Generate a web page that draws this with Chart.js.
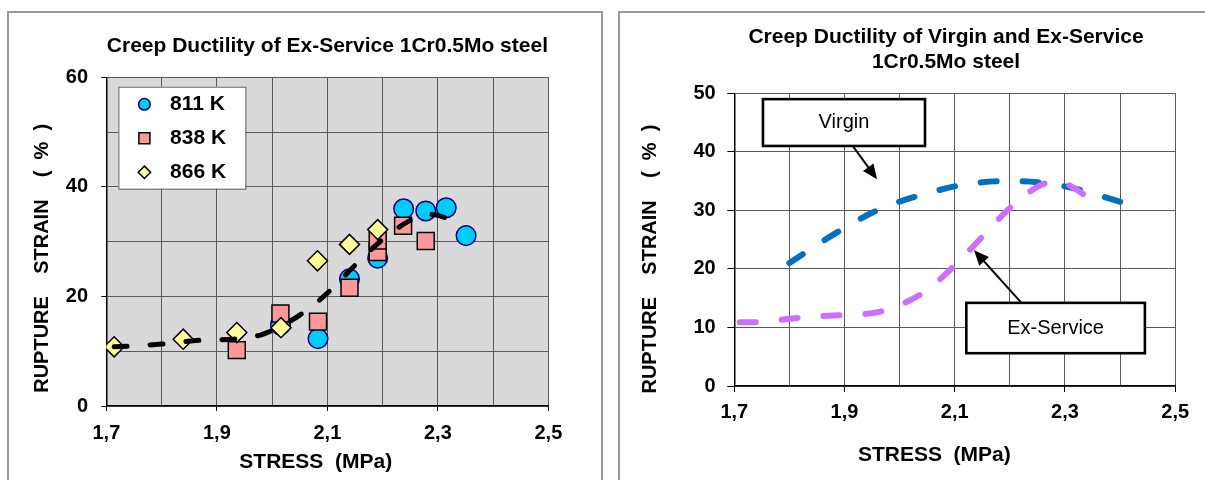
<!DOCTYPE html>
<html>
<head>
<meta charset="utf-8">
<title>Creep Ductility of 1Cr0.5Mo steel</title>
<script src="https://cdn.jsdelivr.net/npm/chart.js@4.4.0/dist/chart.umd.min.js"></script>
<style>
  body { margin: 0; width: 1205px; height: 480px; overflow: hidden; position: relative; background: #fff; }
  .panel { position: absolute; border: 2px solid #9a9a9a; background: #fff; }
  #panelLeft { left: 7px; top: 11px; width: 592px; height: 480px; }
  #panelRight { left: 618px; top: 11px; width: 600px; height: 480px; }
  .holder { position: absolute; top: 0; height: 480px; }
  #leftHolder { left: 0; width: 605px; }
  #rightHolder { left: 605px; width: 600px; }
</style>
</head>
<body>
<div class="panel" id="panelLeft"></div>
<div class="panel" id="panelRight"></div>
<div class="holder" id="leftHolder"><canvas id="leftChart"></canvas></div>
<div class="holder" id="rightHolder"><canvas id="rightChart"></canvas></div>
<script>
// Left chart - measured rupture strain of ex-service steel at three temperatures
const stress811 = [2.015, 2.083, 2.14, 2.191, 2.238, 2.278, 2.315, 2.351];
const strain811 = [14.8, 12.3, 23.2, 27.0, 36.0, 35.6, 36.2, 31.1];
const stress838 = [1.936, 2.015, 2.083, 2.14, 2.191, 2.191, 2.237, 2.278];
const strain838 = [10.2, 16.9, 15.4, 21.6, 28.1, 30.2, 32.9, 30.1];
const stress866 = [1.714, 1.839, 1.936, 2.016, 2.082, 2.14, 2.191];
const strain866 = [10.8, 12.2, 13.4, 14.3, 26.5, 29.5, 32.2];

// dashed trend line drawn through the points
const trendStress = [1.714, 1.8, 1.87, 1.93, 1.98, 2.01, 2.05, 2.1, 2.15, 2.2, 2.25, 2.28, 2.31, 2.34];
const trendStrain = [10.8, 11.3, 12.0, 12.2, 13.0, 14.3, 16.6, 20.6, 25.7, 30.4, 33.9, 35.0, 34.5, 32.6];

// Right chart - fitted curves for virgin and ex-service material
const virginStress = [1.8, 1.85, 1.9, 1.95, 2.0, 2.05, 2.1, 2.15, 2.2, 2.25, 2.3, 2.35, 2.415];
const virginStrain = [21.0, 24.1, 27.0, 29.6, 31.5, 32.9, 34.1, 34.8, 35.0, 34.8, 34.1, 32.9, 31.0];
const exStress = [1.71, 1.75, 1.8, 1.87, 1.92, 1.96, 2.0, 2.05, 2.1, 2.15, 2.2, 2.25, 2.28, 2.3, 2.32, 2.35];
const exStrain = [10.9, 10.9, 11.5, 12.0, 12.2, 12.6, 13.8, 16.4, 20.6, 25.5, 30.4, 34.0, 34.9, 34.6, 33.6, 31.6];

// Axis ticks
const stressGrid = [1.7, 1.8, 1.9, 2.0, 2.1, 2.2, 2.3, 2.4, 2.5];
const stressLabelled = [1.7, 1.9, 2.1, 2.3, 2.5];
const strainGridLeft = [0, 10, 20, 30, 40, 50, 60];
const strainLabelledLeft = [0, 20, 40, 60];
const strainGridRight = [0, 10, 20, 30, 40, 50];

const family = '"Liberation Sans", Arial, Helvetica, sans-serif';

function toPoints(xs, ys) {
  return xs.map((x, i) => ({ x: x, y: ys[i] }));
}

function isLabelled(value, list) {
  return list.some(t => Math.abs(t - value) < 1e-6);
}

function commaLabel(value) {
  return value.toFixed(1).replace('.', ',');
}

function drawMarker(ctx, style, x, y, size, fill, stroke, width) {
  ctx.beginPath();
  if (style === 'circle') {
    ctx.arc(x, y, size, 0, Math.PI * 2);
  } else if (style === 'rect') {
    ctx.rect(x - size, y - size, size * 2, size * 2);
  } else {
    ctx.moveTo(x, y - size);
    ctx.lineTo(x + size, y);
    ctx.lineTo(x, y + size);
    ctx.lineTo(x - size, y);
    ctx.closePath();
  }
  ctx.fillStyle = fill;
  ctx.fill();
  ctx.lineWidth = width;
  ctx.strokeStyle = stroke;
  ctx.stroke();
}

// Fill the plot area
const plotBackground = {
  id: 'plotBackground',
  beforeDraw(chart, args, opts) {
    if (!opts.color) return;
    const { ctx, chartArea: a } = chart;
    ctx.save();
    ctx.fillStyle = opts.color;
    ctx.fillRect(a.left, a.top, a.right - a.left, a.bottom - a.top);
    ctx.restore();
  }
};

// Legend in a white box inside the plot area
const boxLegend = {
  id: 'boxLegend',
  afterDatasetsDraw(chart, args, opts) {
    if (!opts.display) return;
    const { ctx, chartArea: a } = chart;
    const left = a.left + opts.left;
    const top = a.top + opts.top;
    ctx.save();
    ctx.fillStyle = '#fff';
    ctx.fillRect(left, top, opts.width, opts.height);
    ctx.strokeStyle = '#606060';
    ctx.lineWidth = 1;
    ctx.strokeRect(left + 0.5, top + 0.5, opts.width, opts.height);
    const items = chart.data.datasets.filter(d => d.showLine === false);
    items.forEach((d, i) => {
      const cy = top + opts.firstRow + i * opts.rowGap;
      const size = opts.markerSize[d.pointStyle] || 5.5;
      drawMarker(ctx, d.pointStyle, left + opts.markerX, cy, size, d.pointBackgroundColor, d.pointBorderColor, 1.5);
      ctx.fillStyle = '#000';
      ctx.font = 'bold 21px ' + family;
      ctx.textAlign = 'left';
      ctx.textBaseline = 'middle';
      ctx.fillText(d.label, left + opts.textX, cy);
    });
    ctx.restore();
  }
};

// Text boxes with arrows pointing at the curves
const calloutBoxes = {
  id: 'calloutBoxes',
  afterDatasetsDraw(chart, args, opts) {
    if (!opts.items) return;
    const { ctx, scales: { x, y } } = chart;
    ctx.save();
    opts.items.forEach(c => {
      const x0 = x.getPixelForValue(c.from[0]);
      const y0 = y.getPixelForValue(c.from[1]);
      const x1 = x.getPixelForValue(c.to[0]);
      const y1 = y.getPixelForValue(c.to[1]);
      const ang = Math.atan2(y1 - y0, x1 - x0);
      const head = 15;
      const half = 6.5;
      ctx.strokeStyle = '#000';
      ctx.lineWidth = 2;
      ctx.beginPath();
      ctx.moveTo(x0, y0);
      ctx.lineTo(x1 - Math.cos(ang) * head * 0.8, y1 - Math.sin(ang) * head * 0.8);
      ctx.stroke();
      ctx.beginPath();
      ctx.moveTo(x1, y1);
      ctx.lineTo(x1 - Math.cos(ang) * head - Math.sin(ang) * half, y1 - Math.sin(ang) * head + Math.cos(ang) * half);
      ctx.lineTo(x1 - Math.cos(ang) * head + Math.sin(ang) * half, y1 - Math.sin(ang) * head - Math.cos(ang) * half);
      ctx.closePath();
      ctx.fillStyle = '#000';
      ctx.fill();

      const l = x.getPixelForValue(c.xMin);
      const r = x.getPixelForValue(c.xMax);
      const t = y.getPixelForValue(c.yMax);
      const b = y.getPixelForValue(c.yMin);
      ctx.fillStyle = '#fff';
      ctx.fillRect(l, t, r - l, b - t);
      ctx.lineWidth = 2.6;
      ctx.strokeRect(l, t, r - l, b - t);
      ctx.fillStyle = '#000';
      ctx.font = '20px ' + family;
      ctx.textAlign = 'center';
      ctx.textBaseline = 'middle';
      ctx.fillText(c.text, (l + r) / 2, (t + b) / 2);
    });
    ctx.restore();
  }
};

const tickFont = { family: family, size: 20, weight: 'bold', lineHeight: 1.2 };
const xTitleFont = { family: family, size: 21, weight: 'bold', lineHeight: 1.2 };
const yTitleFont = { family: family, size: 20, weight: 'bold', lineHeight: 1.2 };

function stressAxis(height, tickLen, pad, title, titlePad) {
  return {
    type: 'linear',
    min: 1.7,
    max: 2.5,
    afterFit: (s) => { s.height = height; },
    afterBuildTicks: (s) => { s.ticks = stressGrid.map(v => ({ value: v })); },
    ticks: {
      autoSkip: false,
      maxRotation: 0,
      padding: pad,
      color: '#000',
      font: tickFont,
      callback: (v) => isLabelled(v, stressLabelled) ? commaLabel(v) : ''
    },
    grid: {
      color: '#5a5a5a',
      lineWidth: 1,
      tickLength: tickLen,
      tickColor: (c) => (c.tick && isLabelled(c.tick.value, stressLabelled)) ? '#000' : 'rgba(0,0,0,0)'
    },
    border: { color: '#000', width: 1.5 },
    title: { display: true, text: title, color: '#000', font: xTitleFont, padding: { top: 0, bottom: titlePad } }
  };
}

function strainAxis(width, max, grid, labelled, tickLen, pad, title, titlePad) {
  return {
    min: 0,
    max: max,
    afterFit: (s) => { s.width = width; },
    afterBuildTicks: (s) => { s.ticks = grid.map(v => ({ value: v })); },
    ticks: {
      autoSkip: false,
      padding: pad,
      color: '#000',
      font: tickFont,
      callback: (v) => isLabelled(v, labelled) ? String(v) : ''
    },
    grid: {
      color: '#5a5a5a',
      lineWidth: 1,
      tickLength: tickLen,
      tickColor: (c) => (c.tick && isLabelled(c.tick.value, labelled)) ? '#000' : 'rgba(0,0,0,0)'
    },
    border: { color: '#000', width: 1.5 },
    title: { display: true, text: title, color: '#000', font: yTitleFont, padding: { top: titlePad, bottom: 0 } }
  };
}

// Left chart
const leftCtx = document.getElementById('leftChart').getContext('2d');
const leftChart = new Chart(leftCtx, {
  type: 'line',
  data: {
    datasets: [
      {
        label: '811 K',
        data: toPoints(stress811, strain811),
        showLine: false,
        pointStyle: 'circle',
        pointRadius: 9.8,
        pointBackgroundColor: '#00CCFF',
        pointBorderColor: '#000080',
        pointBorderWidth: 1.5,
        order: 3
      },
      {
        label: '838 K',
        data: toPoints(stress838, strain838),
        showLine: false,
        pointStyle: 'rect',
        pointRadius: 12,
        pointBackgroundColor: '#FF9999',
        pointBorderColor: '#000',
        pointBorderWidth: 1.5,
        order: 2
      },
      {
        label: '866 K',
        data: toPoints(stress866, strain866),
        showLine: false,
        pointStyle: 'rectRot',
        pointRadius: 10,
        pointBackgroundColor: '#FFFF99',
        pointBorderColor: '#000',
        pointBorderWidth: 1.5,
        order: 1
      },
      {
        label: 'trend',
        data: toPoints(trendStress, trendStrain),
        borderColor: '#000',
        borderWidth: 5,
        borderDash: [13, 23],
        borderCapStyle: 'round',
        cubicInterpolationMode: 'monotone',
        pointRadius: 0,
        fill: false,
        order: 0
      }
    ]
  },
  options: {
    responsive: true,
    maintainAspectRatio: false,
    animation: false,
    events: [],
    layout: { padding: { left: 20.4, top: 10, right: 56.6, bottom: 0 } },
    plugins: {
      legend: { display: false },
      tooltip: { enabled: false },
      title: {
        display: true,
        fullSize: false,
        text: 'Creep Ductility of Ex-Service 1Cr0.5Mo steel',
        color: '#000',
        font: { family: family, size: 21, weight: 'bold', lineHeight: 1.2 },
        padding: { top: 24.1, bottom: 18 }
      },
      plotBackground: { color: '#D9D9D9' },
      boxLegend: {
        display: true,
        left: 12, top: 9.4, width: 127, height: 102,
        firstRow: 17.6, rowGap: 34, markerX: 26, textX: 51.7,
        markerSize: { circle: 5.8, rect: 5.5, rectRot: 6.2 }
      }
    },
    scales: {
      x: stressAxis(74, 5, 10, 'STRESS  (MPa)    ', 4.7),
      y: strainAxis(86, 60, strainGridLeft, strainLabelledLeft, 5, 13.4, 'RUPTURE    STRAIN    (  %  )      ', 9.6)
    }
  },
  plugins: [plotBackground, boxLegend]
});

// Right chart
const rightCtx = document.getElementById('rightChart').getContext('2d');
const rightChart = new Chart(rightCtx, {
  type: 'line',
  data: {
    datasets: [
      {
        label: 'Ex-Service',
        data: toPoints(exStress, exStrain),
        borderColor: '#CC6FFF',
        borderWidth: 6,
        borderDash: [16, 26],
        borderCapStyle: 'round',
        cubicInterpolationMode: 'monotone',
        pointRadius: 0,
        fill: false,
        order: 0
      },
      {
        label: 'Virgin',
        data: toPoints(virginStress, virginStrain),
        borderColor: '#0070C0',
        borderWidth: 6,
        borderDash: [16, 26],
        borderCapStyle: 'round',
        cubicInterpolationMode: 'monotone',
        pointRadius: 0,
        fill: false,
        order: 1
      }
    ]
  },
  options: {
    responsive: true,
    maintainAspectRatio: false,
    animation: false,
    events: [],
    layout: { padding: { left: 20, top: 10, right: 29.8, bottom: 0 } },
    plugins: {
      legend: { display: false },
      tooltip: { enabled: false },
      title: {
        display: true,
        fullSize: false,
        text: ['Creep Ductility of Virgin and Ex-Service   ', '1Cr0.5Mo steel   '],
        color: '#000',
        font: { family: family, size: 21, weight: 'bold', lineHeight: 1.171 },
        padding: { top: 15.4, bottom: 18.7 }
      },
      calloutBoxes: {
        items: [
          { text: 'Virgin', xMin: 1.752, xMax: 2.046, yMin: 41.0, yMax: 49.0, from: [1.915, 41.0], to: [1.959, 35.3] },
          { text: 'Ex-Service', xMin: 2.121, xMax: 2.445, yMin: 5.6, yMax: 14.2, from: [2.221, 14.2], to: [2.135, 23.2] }
        ]
      }
    },
    scales: {
      x: stressAxis(94, 6, 8.3, 'STRESS  (MPa)       ', 12.4),
      y: strainAxis(109.3, 50, strainGridRight, strainGridRight, 7, 11.6, 'RUPTURE    STRAIN    (  %  )       ', 13)
    }
  },
  plugins: [calloutBoxes]
});
</script>
</body>
</html>
